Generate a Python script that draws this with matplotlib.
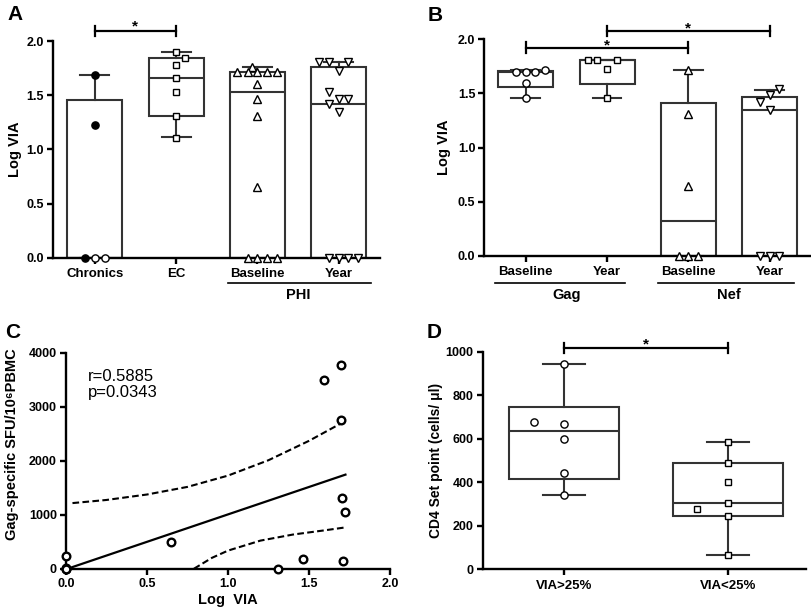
import matplotlib
matplotlib.use("Agg")
import matplotlib.pyplot as plt
import numpy as np

plt.rcParams['font.family'] = ['Liberation Sans', 'DejaVu Sans']
plt.rcParams['font.weight'] = 'bold'

# ---------------- Data ----------------
# Panel A
a_groups = ["Chronics", "EC", "Baseline", "Year"]
a_q1 = [0.0, 1.31, 0.0, 0.0]
a_med = [0.0, 1.66, 1.53, 1.42]
a_q3 = [1.455, 1.84, 1.71, 1.763]
a_lo = [0.0, 1.11, 0.0, 0.0]
a_hi = [1.686, 1.895, 1.763, 1.809]
a_chr_filled = [1.686, 1.222, 0.0]
a_chr_open = [0.0, 0.0]
a_ec = [1.895, 1.84, 1.778, 1.662, 1.529, 1.305, 1.108]
a_base = [1.763, 1.711, 1.711, 1.711, 1.711, 1.711, 1.60, 1.462, 1.308, 0.649, 0.0, 0.0, 0.0, 0.0]
a_year = [1.809, 1.809, 1.809, 1.726, 1.532, 1.465, 1.465, 1.418, 1.348, 0.0, 0.0, 0.0, 0.0]
a_group_label = "PHI"

# Panel B
b_groups = ["Baseline", "Year", "Baseline", "Year"]
b_q1 = [1.56, 1.591, 0.0, 0.0]
b_med = [1.70, 1.806, 0.323, 1.351]
b_q3 = [1.711, 1.806, 1.409, 1.465]
b_lo = [1.462, 1.462, 0.0, 0.0]
b_hi = [1.72, 1.806, 1.714, 1.529]
b_gag_base = [1.70, 1.70, 1.70, 1.72, 1.597, 1.462]
b_gag_year = [1.806, 1.806, 1.806, 1.723, 1.462]
b_nef_base = [1.714, 1.311, 0.649, 0.0, 0.0, 0.0]
b_nef_year = [1.542, 1.483, 1.425, 1.351, 0.0, 0.0, 0.0]
b_super = ["Gag", "Nef"]

# Panel C
c_x = [0.0, 0.0, 0.0, 0.0, 0.65, 1.307, 1.463, 1.592, 1.695, 1.695, 1.705, 1.721, 1.711]
c_y = [233, 0, 15, 0, 491, 0, 184, 3497, 3779, 2761, 1313, 1055, 147]
c_fit_x = [0.01, 1.725]
c_fit_y = [0, 1742]
c_up_x = [0.04, 0.25, 0.5, 0.75, 1.0, 1.25, 1.5, 1.725]
c_up_y = [1215, 1273, 1374, 1515, 1724, 2009, 2368, 2736]
c_lo_x = [0.79, 0.9, 1.0, 1.2, 1.4, 1.6, 1.725]
c_lo_y = [0, 200, 335, 520, 632, 712, 765]
c_r = "r=0.5885"
c_p = "p=0.0343"

# Panel D
d_groups = ["VIA>25%", "VIA<25%"]
d_q1 = [417, 244]
d_med = [638, 305]
d_q3 = [747, 489]
d_lo = [340, 67]
d_hi = [945, 587]
d_high = [945, 678, 670, 600, 442, 340]
d_low = [587, 489, 400, 307, 279, 244, 67]

# ---------------- layout helpers ----------------
W, H = 812, 610
fig = plt.figure(figsize=(W / 100, H / 100), dpi=100)

def axes_px(left, top, right, bottom):
    return fig.add_axes([left / W, 1 - bottom / H, (right - left) / W, (bottom - top) / H])

BOXC = '#333333'
LW = 1.5

def style(ax):
    for s in ['top', 'right']:
        ax.spines[s].set_visible(False)
    for s in ['left', 'bottom']:
        ax.spines[s].set_linewidth(1.7)
        ax.spines[s].set_zorder(4)
    ax.tick_params(axis='both', width=1.7, length=4.5, direction='out', pad=2, labelsize=9)

def boxes(ax, q1, med, q3, lo, hi, labels, width, capw):
    stats = [dict(q1=a, med=m, q3=b, whislo=l, whishi=h, label=lab)
             for a, m, b, l, h, lab in zip(q1, med, q3, lo, hi, labels)]
    ax.bxp(stats, positions=np.arange(len(stats)), widths=width, capwidths=capw,
           showfliers=False, patch_artist=True,
           boxprops=dict(facecolor='white', edgecolor=BOXC, linewidth=LW),
           medianprops=dict(color=BOXC, linewidth=LW),
           whiskerprops=dict(color=BOXC, linewidth=LW),
           capprops=dict(color=BOXC, linewidth=LW))

def pts(ax, pos, offs, vals, marker, filled=False, ms=5.4, mew=1.0):
    xs = [pos + o for o in offs]
    ax.plot(xs, vals, ls='none', marker=marker, ms=ms, mew=mew,
            mfc='black' if filled else 'white', mec='black', clip_on=False, zorder=5)

def bracket(ax, x0, x1, y, d, star_y=None):
    ax.plot([x0, x1], [y, y], color='black', lw=1.6, clip_on=False, zorder=6)
    ax.plot([x0, x0], [y - d, y + d], color='black', lw=1.6, clip_on=False, zorder=6)
    ax.plot([x1, x1], [y - d, y + d], color='black', lw=1.6, clip_on=False, zorder=6)
    ax.text((x0 + x1) / 2, y if star_y is None else star_y, '*', ha='center', va='baseline',
            fontsize=11, fontweight='bold')

# ---------------- Panel A ----------------
axA = axes_px(53, 41, 380, 257.7)
boxes(axA, a_q1, a_med, a_q3, a_lo, a_hi, a_groups, 0.675, 0.355)
pts(axA, 0, [0, 0, -0.115], a_chr_filled, 'o', filled=True, ms=5.2)
pts(axA, 0, [0.0, 0.12], a_chr_open, 'o', ms=5.2)
pts(axA, 1, [0, 0.11, 0, 0, 0, 0, 0], a_ec, 's', ms=4.9)
pts(axA, 2, [-0.06, -0.245, -0.12, 0, 0.12, 0.245, 0, 0, 0, 0, -0.12, 0, 0.12, 0.245],
    a_base, '^')
pts(axA, 3, [-0.24, -0.12, 0.12, 0, -0.12, 0, 0.12, -0.12, 0, -0.12, 0, 0.12, 0.24],
    a_year, 'v')
axA.set_xlim(-0.515, 3.51)
axA.set_ylim(0, 2.0)
axA.set_yticks([0, 0.5, 1.0, 1.5, 2.0])
axA.set_yticklabels(['0.0', '0.5', '1.0', '1.5', '2.0'])
style(axA)
axA.tick_params(axis='x', labelsize=9.5, pad=3)
axA.set_ylabel('Log VIA', fontsize=10.5, fontweight='bold')
axA.yaxis.set_label_coords(-0.095, 0.5)
bracket(axA, 0, 1, 2.093, 0.045)
axA.plot([1.645, 3.40], [-0.117, -0.117], color='black', lw=1.2,
         transform=axA.get_xaxis_transform(), clip_on=False)
axA.text(2.5, -0.172, a_group_label, transform=axA.get_xaxis_transform(),
         ha='center', va='center', fontsize=10.5, fontweight='bold')
fig.text(7 / W, 1 - 15 / H, 'A', fontsize=15, fontweight='bold', va='center', ha='left')

# ---------------- Panel B ----------------
axB = axes_px(484.3, 39.3, 811, 256)
boxes(axB, b_q1, b_med, b_q3, b_lo, b_hi, b_groups, 0.677, 0.355)
pts(axB, 0, [-0.12, 0, 0.12, 0.24, 0, 0], b_gag_base, 'o', ms=5.2)
pts(axB, 1, [-0.24, -0.12, 0.12, 0, 0], b_gag_year, 's', ms=4.9)
pts(axB, 2, [0, 0, 0, -0.12, 0, 0.12], b_nef_base, '^')
pts(axB, 3, [0.12, 0, -0.12, 0, -0.12, 0, 0.12], b_nef_year, 'v')
axB.set_xlim(-0.51, 3.51)
axB.set_ylim(0, 2.0)
axB.set_yticks([0, 0.5, 1.0, 1.5, 2.0])
axB.set_yticklabels(['0.0', '0.5', '1.0', '1.5', '2.0'])
style(axB)
axB.tick_params(axis='x', labelsize=9.5, pad=3)
axB.set_ylabel('Log VIA', fontsize=10.5, fontweight='bold')
axB.yaxis.set_label_coords(-0.102, 0.5)
bracket(axB, 0, 2, 1.923, 0.048, star_y=1.905)
bracket(axB, 1, 3, 2.077, 0.045, star_y=2.06)
for x0, x1, xc, lab in [(-0.378, 1.223, 0.5, b_super[0]), (1.626, 3.30, 2.5, b_super[1])]:
    axB.plot([x0, x1], [-0.123, -0.123], color='black', lw=1.2,
             transform=axB.get_xaxis_transform(), clip_on=False)
    axB.text(xc, -0.18, lab, transform=axB.get_xaxis_transform(),
             ha='center', va='center', fontsize=10.5, fontweight='bold')
fig.text(428 / W, 1 - 15.5 / H, 'B', fontsize=15, fontweight='bold', va='center', ha='left')

# ---------------- Panel C ----------------
axC = axes_px(66, 352.7, 390, 568.7)
axC.plot(c_fit_x, c_fit_y, color='black', lw=1.6, zorder=3)
axC.plot(c_up_x, c_up_y, color='black', lw=1.5, ls=(0, (3.2, 1.6)), zorder=3)
axC.plot(c_lo_x, c_lo_y, color='black', lw=1.5, ls=(0, (3.2, 1.6)), zorder=3, clip_on=False)
axC.plot(c_x, c_y, ls='none', marker='o', ms=5.5, mew=1.7, mfc='white', mec='black',
         clip_on=False, zorder=5)
axC.set_xlim(0, 2.0)
axC.set_ylim(0, 4000)
axC.set_xticks([0, 0.5, 1.0, 1.5, 2.0])
axC.set_xticklabels(['0.0', '0.5', '1.0', '1.5', '2.0'])
axC.set_yticks([0, 1000, 2000, 3000, 4000])
style(axC)
axC.set_xlabel('Log  VIA', fontsize=10.5, fontweight='bold', labelpad=2)
axC.set_ylabel('Gag-specific SFU/10\u2076PBMC', fontsize=10.5, fontweight='bold')
axC.yaxis.set_label_coords(-0.145, 0.575)
axC.text(0.138, 3555, c_r, fontsize=12, fontweight='normal', va='center', ha='left')
axC.text(0.138, 3267, c_p, fontsize=12, fontweight='normal', va='center', ha='left')
fig.text(5 / W, 1 - 332 / H, 'C', fontsize=15, fontweight='bold', va='center', ha='left')

# ---------------- Panel D ----------------
axD = axes_px(482.7, 352, 806, 569.3)
boxes(axD, d_q1, d_med, d_q3, d_lo, d_hi, d_groups, 0.673, 0.257)
pts(axD, 0, [0, -0.185, 0, 0, 0, 0], d_high, 'o', ms=5.2)
pts(axD, 1, [0, 0, 0, 0, -0.185, 0, 0], d_low, 's', ms=4.9)
axD.set_xlim(-0.5, 1.48)
axD.set_ylim(0, 1000)
axD.set_yticks([0, 200, 400, 600, 800, 1000])
style(axD)
axD.tick_params(axis='x', labelsize=9.5, pad=3)
axD.set_ylabel('CD4 Set point (cells/ μl)', fontsize=10, fontweight='bold')
axD.yaxis.set_label_coords(-0.123, 0.5)
bracket(axD, 0, 1, 1018, 24)
fig.text(427 / W, 1 - 332 / H, 'D', fontsize=15, fontweight='bold', va='center', ha='left')

fig.savefig('out.png', dpi=100)
